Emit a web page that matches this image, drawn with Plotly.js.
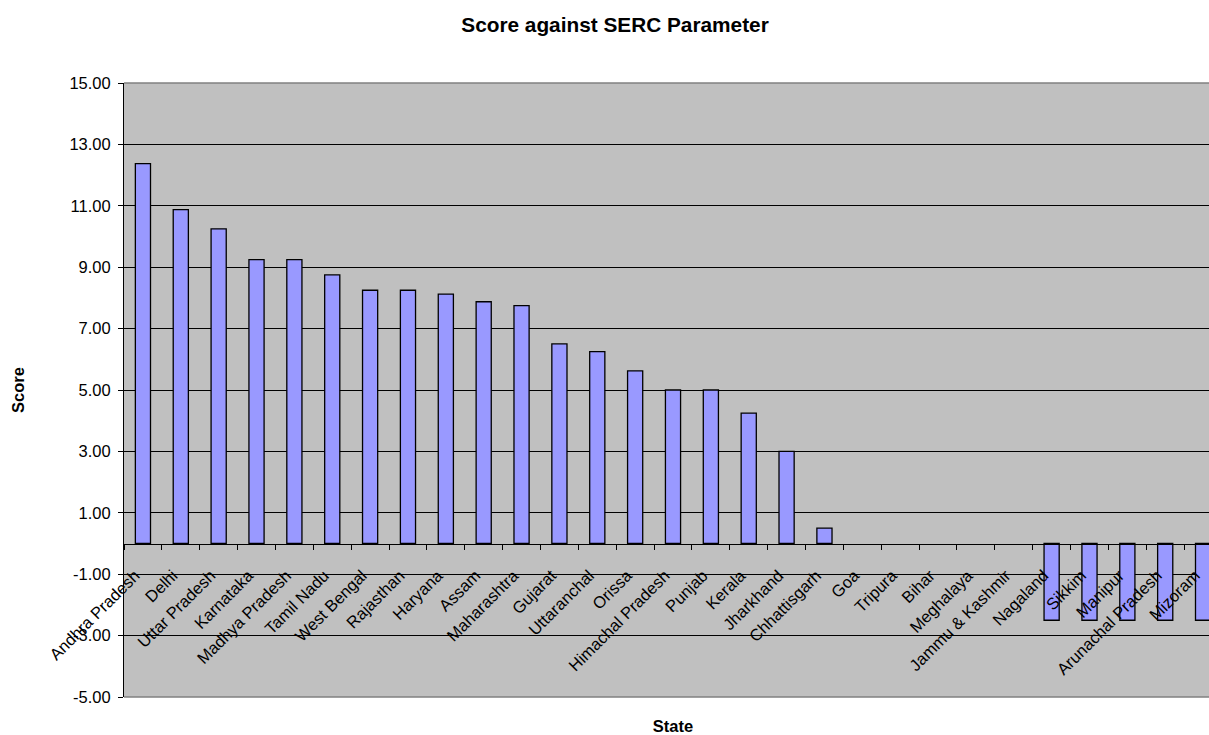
<!DOCTYPE html>
<html>
<head>
<meta charset="utf-8">
<script src="https://cdn.plot.ly/plotly-3.0.1.min.js"></script>
<style>
  html, body { margin: 0; padding: 0; overflow: hidden; background: #ffffff; }
  #chart { width: 1230px; height: 735px; }
</style>
</head>
<body>
<div id="chart"></div>
<script>
// States in ranked order and their SERC parameter scores
const states = [
  'Andhra Pradesh', 'Delhi', 'Uttar Pradesh', 'Karnataka', 'Madhya Pradesh',
  'Tamil Nadu', 'West Bengal', 'Rajasthan', 'Haryana', 'Assam',
  'Maharashtra', 'Gujarat', 'Uttaranchal', 'Orissa', 'Himachal Pradesh',
  'Punjab', 'Kerala', 'Jharkhand', 'Chhattisgarh', 'Goa',
  'Tripura', 'Bihar', 'Meghalaya', 'Jammu & Kashmir', 'Nagaland',
  'Sikkim', 'Manipur', 'Arunachal Pradesh', 'Mizoram'
];
const scores = [
  12.375, 10.875, 10.25, 9.25, 9.25,
  8.75, 8.25, 8.25, 8.125, 7.875,
  7.75, 6.5, 6.25, 5.625, 5.0,
  5.0, 4.25, 3.0, 0.5, 0,
  0, 0, 0, 0, -2.5,
  -2.5, -2.5, -2.5, -2.5
];

// Value axis ticks: every 2 points from -5 to 15, two decimals, plain hyphen minus
const yTickVals = [-5, -3, -1, 1, 3, 5, 7, 9, 11, 13, 15];
const yTickText = yTickVals.map(v => v.toFixed(2));

const chartTitle = 'Score against SERC Parameter';
const xTitle = 'State';
const yTitle = 'Score';
const yMin = -5, yMax = 15;

const FONT = 'Arial, "Liberation Sans", sans-serif';

const trace = {
  type: 'bar',
  x: states,
  y: scores,
  marker: {
    color: '#9999FF',
    // zero-height bars get no outline so nothing sits on the axis line
    line: { color: '#000000', width: scores.map(v => (v === 0 ? 0 : 1.3)) }
  },
  hoverinfo: 'x+y'
};

const layout = {
  width: 1230,
  height: 735,
  margin: { l: 124, r: 8, t: 83, b: 38 },
  paper_bgcolor: '#ffffff',
  plot_bgcolor: '#C0C0C0',
  font: { family: FONT, color: '#000000', size: 16.5 },
  showlegend: false,
  bargap: 0.6,
  title: {
    text: chartTitle,
    font: { family: FONT, size: 20.8, weight: 'bold', color: '#000000' },
    x: 0.5, xref: 'container', xanchor: 'center',
    y: 0.966, yref: 'container', yanchor: 'middle'
  },
  xaxis: {
    type: 'category',
    range: [-0.5, states.length - 0.5],
    anchor: 'free',
    position: (0 - yMin) / (yMax - yMin),
    showline: true, linecolor: '#000000', linewidth: 1,
    ticks: 'outside', ticklen: 5, tickcolor: '#000000', tickwidth: 1,
    tickson: 'boundaries',
    tickangle: -45,
    ticklabelstandoff: 15,
    ticklabelshift: -8,
    showgrid: false,
    zeroline: false,
    tickfont: { family: FONT, size: 16.5, color: '#000000' },
    title: {
      text: xTitle, standoff: 46,
      font: { family: FONT, size: 16.5, weight: 'bold', color: '#000000' }
    }
  },
  yaxis: {
    range: [yMin, yMax],
    tickmode: 'array', tickvals: yTickVals, ticktext: yTickText,
    showline: true, linecolor: '#000000', linewidth: 1,
    ticks: 'outside', ticklen: 5, tickcolor: '#000000', tickwidth: 1,
    ticklabelstandoff: 4,
    showgrid: true, gridcolor: '#000000', gridwidth: 1,
    zeroline: false,
    tickfont: { family: FONT, size: 16.5, color: '#000000' },
    title: {
      text: yTitle, standoff: 40,
      font: { family: FONT, size: 16.5, weight: 'bold', color: '#000000' }
    }
  },
  shapes: [
    { type: 'line', xref: 'paper', yref: 'paper', x0: 0, x1: 1, y0: 1, y1: 1,
      line: { color: '#808080', width: 1.5 }, layer: 'above' },
    { type: 'line', xref: 'paper', yref: 'paper', x0: 0, x1: 1, y0: 0, y1: 0,
      line: { color: '#808080', width: 1.5 }, layer: 'above' }
  ]
};

Plotly.newPlot('chart', [trace], layout, { displayModeBar: false, staticPlot: true });
</script>
</body>
</html>
